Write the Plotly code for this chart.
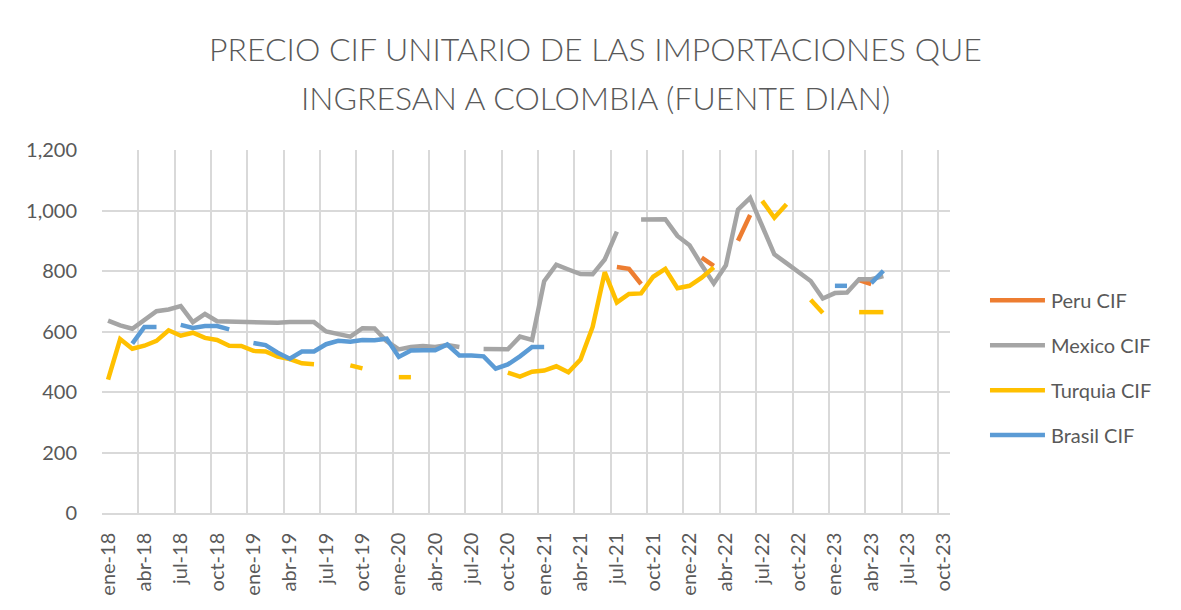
import plotly.graph_objects as go

# ---- data -------------------------------------------------------------
months = [f"{m}-{y}" for y in ["18", "19", "20", "21", "22", "23"]
          for m in ["ene", "feb", "mar", "abr", "may", "jun",
                    "jul", "ago", "sep", "oct", "nov", "dic"]][:70]

N = None
peru_cif = [N]*42 + [813, 807, 757, N, N, N, N, 844, 817, N, 900, 985,
                     N, N, N, N, N, N, N, N, 770, 757, N, N, N, N, N, N]

mexico_cif = [636, 620, 609, 640, 667, 673, 684, 631, 658, 634, 633, 632,
              631, 629, 629, 631, 631, 631, 600, 593, 583, 611, 610, 568,
              541, 549, 552, 549, 555, 549, N, 542, 541, 541, 583, 572,
              766, 821, 805, 790, 789, 838, 930, N, 970, 971, 971, 916,
              885, 820, 759, 819, 1003, 1042, 951, 855, 826, 798, 767, 709,
              727, 729, 773, 773, 783, N, N, N, N, N]

turquia_cif = [441, 575, 543, 553, 569, 604, 586, 596, 579, 572, 553, 552,
               536, 534, 517, 509, 495, 492, N, N, 488, 478, N, N,
               449, 449, N, N, N, N, N, N, N, 464, 451, 467,
               471, 485, 465, 507, 615, 796, 696, 724, 726, 781, 807, 743,
               751, 778, 812, N, N, N, 1032, 976, 1021, N, 705, 661,
               N, N, 664, 664, 664, N, N, N, N, N]

brasil_cif = [N, N, 560, 615, 615, N, 622, 612, 618, 618, 607, N,
              562, 555, 530, 510, 534, 534, 558, 569, 566, 572, 571, 576,
              516, 537, 538, 538, 557, 521, 521, 518, 477, 491, 518, 549,
              549, N, N, N, N, N, N, N, N, N, N, N,
              N, N, N, N, N, N, N, N, N, N, N, N,
              751, 751, N, 760, 801, N, N, N, N, N]

series_names = ["Peru CIF", "Mexico CIF", "Turquia CIF", "Brasil CIF"]
series_values = [peru_cif, mexico_cif, turquia_cif, brasil_cif]
series_colors = ["#ED7D31", "#A5A5A5", "#FFC000", "#5B9BD5"]

title_lines = ["PRECIO CIF UNITARIO DE LAS IMPORTACIONES QUE",
               "INGRESAN A COLOMBIA (FUENTE DIAN)"]

# ---- figure -----------------------------------------------------------
x = list(range(len(months)))
FONT = "Lato"
TXT = "#595959"
GRID = "#D9D9D9"

fig = go.Figure()
for name, vals, col in zip(series_names, series_values, series_colors):
    fig.add_trace(go.Scatter(
        x=x, y=vals, name=name, mode="lines",
        line=dict(color=col, width=4.5),
        connectgaps=False, showlegend=False))

OFF = 8  # page body margin
W, H = 1181 - OFF, 610 - OFF
L = 101.7 - OFF
T = 150 - OFF
R = W - (950 - OFF)
B = H - (513.5 - OFF)
pw, ph = W - L - R, H - T - B

def px2paper(px, py):
    # px, py in screen pixels
    return (px - OFF - L) / pw, (H - B - (py - OFF)) / ph

annotations = []
for line, py in zip(title_lines, [48, 97]):
    xp, yp = px2paper(595.5, py)
    annotations.append(dict(
        text=line, xref="paper", yref="paper",
        x=xp, y=yp, xanchor="center", yanchor="middle",
        showarrow=False,
        font=dict(family=FONT, size=32, color=TXT, weight=300)))

shapes = []
for name, col, py in zip(series_names, series_colors, [300.5, 345.5, 390.5, 435.5]):
    x0, yp = px2paper(990, py)
    x1, _ = px2paper(1045, py)
    shapes.append(dict(type="line", xref="paper", yref="paper",
                       x0=x0, x1=x1, y0=yp, y1=yp,
                       line=dict(color=col, width=4.5)))
    xt, _ = px2paper(1049, py)
    annotations.append(dict(
        text=name, xref="paper", yref="paper", x=xt, y=yp,
        xanchor="left", yanchor="middle", showarrow=False,
        font=dict(family=FONT, size=20, color=TXT)))

tick_idx = x[::3]
fig.update_layout(
    width=W, height=H,
    margin=dict(l=L, r=R, t=T, b=B, pad=0),
    paper_bgcolor="white", plot_bgcolor="white",
    font=dict(family=FONT, color=TXT, size=20),
    annotations=annotations, shapes=shapes,
    showlegend=False,
    xaxis=dict(
        range=[-0.5, len(months) - 0.5],
        tickmode="array", tickvals=tick_idx,
        ticktext=[months[i] for i in tick_idx],
        tickangle=-90, showgrid=False, zeroline=False,
        ticks="", ticklabelstandoff=10,
        tickfont=dict(family=FONT, size=20, color=TXT),
        showline=True, linecolor=GRID, linewidth=1.5,
        minor=dict(tickmode="array",
                   tickvals=[i - 0.5 for i in tick_idx],
                   showgrid=True, gridcolor=GRID, gridwidth=1.5, ticks=""),
    ),
    yaxis=dict(
        range=[0, 1200], tickmode="linear", tick0=0, dtick=200,
        tickformat=",d", showgrid=True, gridcolor=GRID, gridwidth=1.5,
        zeroline=False, ticks="", ticklabelstandoff=24,
        tickfont=dict(family=FONT, size=20, color=TXT),
    ),
)

fig.write_html("out.html")
